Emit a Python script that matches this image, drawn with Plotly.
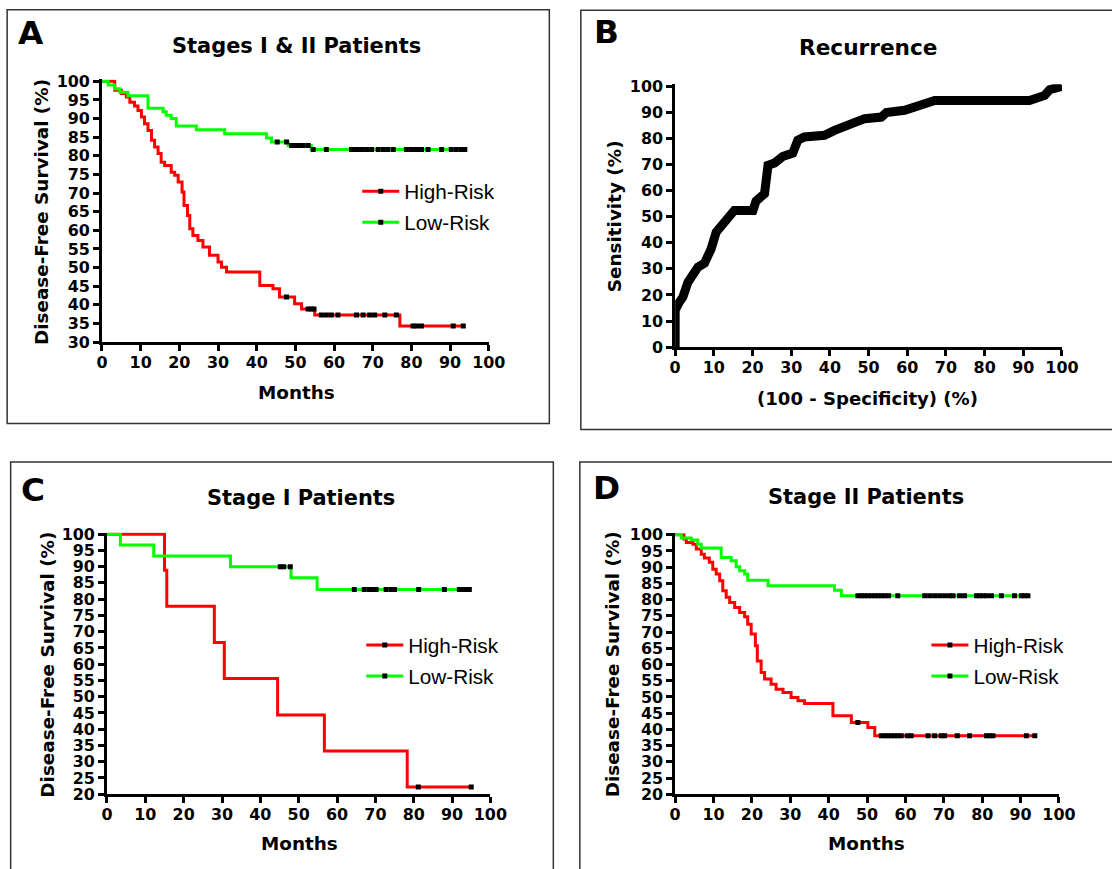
import plotly.graph_objects as go

W, H = 1112, 869

# ---------------- DATA ----------------
# Panel A: Stages I & II patients (Kaplan-Meier, months vs DFS %)
a_high_t = [0, 3.3, 5.0, 6.3, 7.2, 8.4, 9.3, 10.2, 11.0, 11.9, 12.8, 13.6, 14.5, 15.3, 16.2, 17.9,
            18.8, 19.7, 20.7, 21.2, 22.1, 22.7, 23.5, 24.8, 26.1, 27.8, 30.0, 30.9, 32.2, 40.8,
            44.2, 45.9, 49.8, 51.6, 55.0, 77.0, 93.8]
a_high_s = [100, 97.6, 96.7, 95.8, 94.4, 93.4, 92.2, 90.4, 88.6, 86.8, 84.2, 82.4, 80.6, 78.3, 77.4,
            75.6, 74.8, 73.0, 70.3, 66.7, 64.0, 60.4, 58.6, 57.3, 55.5, 53.3, 51.5, 50.1, 48.8, 45.2,
            44.3, 42.1, 40.3, 38.9, 37.3, 34.3, 34.3]
a_high_cens = [47.7, 53.3, 54.1, 54.8, 56.7, 58.0, 59.3, 61.0, 65.8, 67.5, 69.2, 70.5, 73.1, 76.1,
               80.4, 81.3, 82.6, 90.8, 93.4]
a_low_t = [0, 1.6, 3.3, 4.6, 6.7, 11.9, 15.8, 16.6, 17.9, 19.2, 24.4, 31.7, 42.5, 43.8, 48.1, 54.1, 94.2]
a_low_s = [100, 99.0, 98.0, 97.1, 96.1, 92.8, 91.8, 90.9, 90.0, 88.0, 87.0, 85.9, 84.8, 83.7, 82.8, 81.7, 81.7]
a_low_cens = [45.3, 47.7, 49.0, 49.8, 50.9, 52.0, 53.3, 54.6, 58.0, 64.5, 65.8, 67.1, 68.4, 69.7,
              71.4, 72.7, 73.9, 75.3, 78.7, 80.0, 81.3, 82.6, 84.3, 87.8, 90.3, 91.6, 92.9, 93.8]

# Panel B: ROC curve for recurrence
roc_x = [0, 0, 1.1, 2.0, 3.3, 4.6, 5.9, 7.6, 9.3, 10.6, 12.3, 13.6, 15.3, 20.1, 20.9, 23.1, 24.0,
         25.7, 27.8, 30.4, 31.7, 33.4, 38.6, 41.2, 44.7, 49.0, 53.3, 54.6, 59.3, 61.9, 64.5, 67.1,
         91.6, 93.4, 95.5, 96.8, 99.0, 100]
roc_y = [0, 14.1, 17.3, 19.2, 24.9, 27.5, 30.7, 32.2, 37.7, 44.1, 47.3, 49.9, 52.4, 52.4, 56.0, 58.8,
         69.7, 70.6, 73.1, 74.4, 79.3, 80.6, 81.2, 83.1, 85.0, 87.6, 88.2, 89.9, 90.8, 92.1, 93.6,
         94.6, 94.6, 95.7, 96.5, 98.7, 100, 100]

# Panel C: Stage I patients
c_high_t = [0, 15.0, 15.6, 28.0, 30.6, 44.5, 56.7, 78.3, 95.0]
c_high_s = [100, 88.9, 77.8, 66.7, 55.6, 44.4, 33.3, 22.2, 22.2]
c_high_cens = [81.2, 95.0]
c_low_t = [0, 3.5, 12.2, 32.2, 48.0, 54.8, 94.5]
c_low_s = [100, 96.7, 93.3, 90.0, 86.6, 83.0, 83.0]
c_low_cens = [45.2, 46.1, 47.8, 64.5, 67.1, 68.4, 69.3, 70.2, 72.8, 74.1, 75.0, 81.3, 88.0,
              91.9, 92.8, 93.7, 94.5]

# Panel D: Stage II patients
d_high_t = [0, 2.3, 2.9, 4.6, 5.5, 6.8, 7.6, 8.9, 9.8, 10.7, 11.6, 12.4, 13.3, 14.2, 15.5, 16.8,
            18.1, 18.9, 19.8, 20.9, 21.4, 22.4, 23.3, 25.0, 26.3, 28.1, 30.2, 32.0, 33.7, 41.1,
            45.9, 50.2, 52.0, 93.7]
d_high_s = [100, 98.7, 97.6, 97.1, 95.6, 94.0, 92.8, 91.5, 89.4, 87.9, 85.8, 82.7, 80.7, 79.1, 77.6,
            76.0, 74.7, 72.4, 69.4, 65.8, 61.1, 57.5, 55.5, 53.9, 52.4, 51.4, 49.8, 48.8, 48.0, 44.2,
            42.1, 40.6, 38.0, 38.0]
d_high_cens = [47.6, 53.7, 54.6, 55.4, 56.3, 57.2, 58.0, 58.9, 60.5, 61.5, 65.9, 67.6, 69.3, 70.2,
               73.5, 76.7, 81.1, 81.9, 82.8, 91.5, 93.7]
d_low_t = [0, 1.6, 4.2, 5.9, 6.8, 12.0, 14.6, 15.9, 16.8, 18.1, 18.9, 24.2, 41.5, 43.3, 92.4]
d_low_s = [100, 99.0, 98.4, 97.1, 95.9, 93.0, 92.0, 90.1, 88.9, 87.9, 86.0, 84.3, 82.9, 81.2, 81.2]
d_low_cens = [47.6, 48.5, 49.4, 50.2, 51.1, 52.0, 52.8, 53.7, 54.6, 55.6, 58.0, 65.0, 66.3, 67.6,
              68.9, 70.2, 71.5, 72.4, 74.1, 75.4, 78.5, 79.3, 80.2, 81.1, 82.4, 85.0, 88.4, 90.2,
              91.0, 91.9]

# Tick values
x_ticks = [0, 10, 20, 30, 40, 50, 60, 70, 80, 90, 100]
a_y_ticks = [30, 35, 40, 45, 50, 55, 60, 65, 70, 75, 80, 85, 90, 95, 100]
b_y_ticks = [0, 10, 20, 30, 40, 50, 60, 70, 80, 90, 100]
cd_y_ticks = [20, 25, 30, 35, 40, 45, 50, 55, 60, 65, 70, 75, 80, 85, 90, 95, 100]

series_names = ["High-Risk", "Low-Risk"]
RED, GREEN = "#FF0000", "#00FF00"

# ---------------- HELPERS ----------------
# positions below are given in target-picture pixels; convert to page pixels / paper fractions
OX, OY, S = 6.35, 7.7, 0.979


def px_x(p):
    return ((p - OX) / S) / W


def px_y(p):
    return 1 - ((p - OY) / S) / H


def fs(size):
    return size / S


def step_value(ts, ss, t):
    v = ss[0]
    for ti, si in zip(ts, ss):
        if ti <= t:
            v = si
    return v


BOLD = dict(family="DejaVu Sans", color="black", weight="bold")

fig = go.Figure()


def add_km(ts, ss, cens, color, name, ax, legend, group):
    xa, ya = ax
    fig.add_trace(go.Scatter(x=ts, y=ss, mode="lines", line=dict(color=color, width=3, shape="hv"),
                             xaxis=xa, yaxis=ya, showlegend=False, hoverinfo="skip"))
    fig.add_trace(go.Scatter(x=cens, y=[step_value(ts, ss, c) for c in cens], mode="markers",
                             marker=dict(symbol="square", size=5, color="black"),
                             xaxis=xa, yaxis=ya, showlegend=False, hoverinfo="skip"))
    fig.add_trace(go.Scatter(x=[None], y=[None], mode="lines+markers", name=name,
                             line=dict(color=color, width=3),
                             marker=dict(symbol="square", size=5, color="black"),
                             xaxis=xa, yaxis=ya, legend=legend, legendgroup=group))


add_km(a_high_t, a_high_s, a_high_cens, RED, series_names[0], ("x", "y"), "legend", "a1")
add_km(a_low_t, a_low_s, a_low_cens, GREEN, series_names[1], ("x", "y"), "legend", "a2")

fig.add_trace(go.Scatter(x=roc_x, y=roc_y, mode="lines", line=dict(color="black", width=9),
                         xaxis="x2", yaxis="y2", showlegend=False, hoverinfo="skip"))

add_km(c_high_t, c_high_s, c_high_cens, RED, series_names[0], ("x3", "y3"), "legend2", "c1")
add_km(c_low_t, c_low_s, c_low_cens, GREEN, series_names[1], ("x3", "y3"), "legend2", "c2")
add_km(d_high_t, d_high_s, d_high_cens, RED, series_names[0], ("x4", "y4"), "legend3", "d1")
add_km(d_low_t, d_low_s, d_low_cens, GREEN, series_names[1], ("x4", "y4"), "legend3", "d2")

# ---------------- AXES ----------------
axis_common = dict(showline=True, linecolor="black", linewidth=2.8, ticks="outside", ticklen=6,
                   tickwidth=2.5, tickcolor="black", showgrid=False, zeroline=False,
                   tickfont=dict(size=fs(15.6), **BOLD), fixedrange=True)

panels = [
    # (suffix, x px (0..100), y px (top=max, bottom=min), y range, y ticks, top pad in data units)
    ("", (102.3, 489.0), (81.0, 341.7), [30, 100], a_y_ticks, 0.5),
    ("2", (675.3, 1062.0), (86.0, 346.7), [0, 100], b_y_ticks, 0.8),
    ("3", (107.3, 490.6), (533.7, 793.7), [20, 100], cd_y_ticks, 0.5),
    ("4", (675.3, 1059.0), (534.3, 793.7), [20, 100], cd_y_ticks, 0.5),
]
layout_axes = {}
for suf, xd, yd, yr, yt, pad in panels:
    per_unit = (yd[1] - yd[0]) / (yr[1] - yr[0])
    top_px = yd[0] - pad * per_unit
    layout_axes["xaxis" + suf] = dict(axis_common, domain=[px_x(xd[0]), px_x(xd[1])], range=[0, 100],
                                      tickvals=x_ticks, anchor="y" + suf, ticklabelstandoff=-2)
    layout_axes["yaxis" + suf] = dict(axis_common, domain=[px_y(yd[1]), px_y(top_px)],
                                      range=[yr[0], yr[1] + pad], tickvals=yt, anchor="x" + suf)

# ---------------- TEXT ----------------
ann = []


def text(s, cx, cy, size, angle=0):
    ann.append(dict(text=s, x=px_x(cx), y=px_y(cy), xref="paper", yref="paper", showarrow=False,
                    xanchor="center", yanchor="middle", textangle=angle,
                    font=dict(size=fs(size), **BOLD)))


# panel letters
text("A", 31, 33, 32)
text("B", 607, 32, 32)
text("C", 33, 490, 32)
text("D", 607, 488, 32)
# titles
text("Stages I &amp; II Patients", 296.5, 46, 20.5)
text("Recurrence", 869, 47, 21.2)
text("Stage I Patients", 301, 497.5, 20.5)
text("Stage II Patients", 866, 497, 20.5)
# axis titles
text("Disease-Free Survival (%)", 42.5, 211.5, 18, -90)
text("Months", 297, 392, 18)
text("Sensitivity (%)", 615, 216, 18, -90)
text("(100 - Specificity) (%)", 868, 398, 17.7)
text("Disease-Free Survival (%)", 47.5, 664, 18, -90)
text("Months", 300, 843, 18)
text("Disease-Free Survival (%)", 613, 664, 18, -90)
text("Months", 867, 843, 18)

# panel frames (B and D run off the right edge, C and D off the bottom)
FR = dict(type="path", xref="paper", yref="paper", line=dict(color="#333333", width=1.5))


def frame_path(pts):
    return "M " + " L ".join(f"{px_x(x):.5f},{px_y(y):.5f}" for x, y in pts)


shapes = [
    dict(FR, path=frame_path([(7.5, 9.5), (549.5, 9.5), (549.5, 423), (7.5, 423)]) + " Z"),
    dict(FR, path=frame_path([(1140, 10), (581, 10), (581, 429), (1140, 429)])),
    dict(FR, path=frame_path([(11, 900), (11, 461.5), (553.5, 461.5), (553.5, 900)])),
    dict(FR, path=frame_path([(580, 900), (580, 461.5), (1140, 461.5)])),
]

legend_common = dict(xanchor="left", yanchor="top", bgcolor="rgba(0,0,0,0)", borderwidth=0,
                     font=dict(family="Liberation Sans", size=fs(20.3), color="black"),
                     itemwidth=37, tracegroupgap=1)

fig.update_layout(
    width=W, height=H, margin=dict(l=0, r=0, t=0, b=0),
    paper_bgcolor="white", plot_bgcolor="white",
    annotations=ann, shapes=shapes,
    legend=dict(legend_common, x=px_x(357.5), y=px_y(171)),
    legend2=dict(legend_common, x=px_x(361.5), y=px_y(624.5)),
    legend3=dict(legend_common, x=px_x(926.5), y=px_y(624.5)),
    **layout_axes,
)

fig.write_html("out.html", config={"displayModeBar": False},
               post_script="document.body.style.margin='0';document.body.style.overflow='hidden';")
